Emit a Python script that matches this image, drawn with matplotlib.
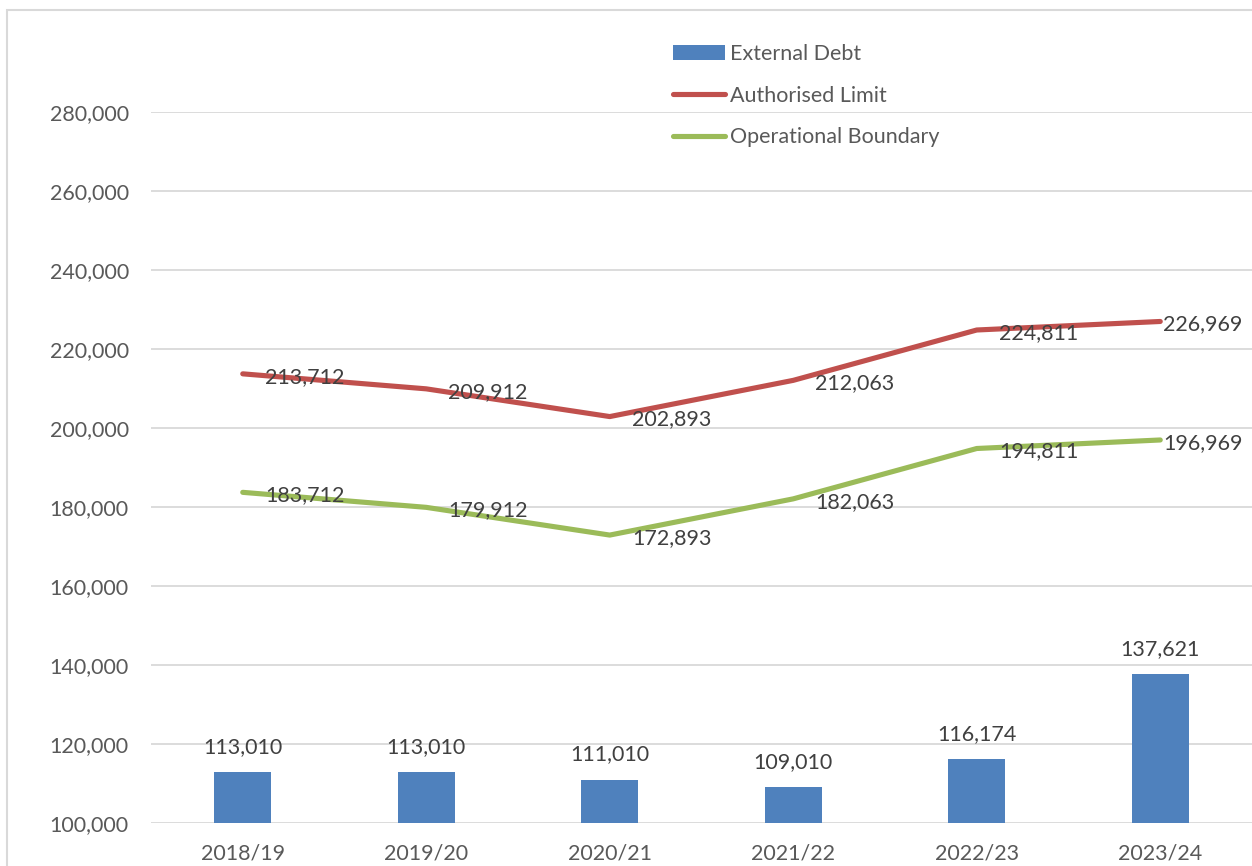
import numpy as np
import matplotlib.pyplot as plt
from matplotlib.patches import Rectangle
from matplotlib.ticker import FuncFormatter

# values
years = ['2018/19', '2019/20', '2020/21', '2021/22', '2022/23', '2023/24']
external_debt = [113010, 113010, 111010, 109010, 116174, 137621]
authorised_limit = [213712, 209912, 202893, 212063, 224811, 226969]
operational_boundary = [183712, 179912, 172893, 182063, 194811, 196969]

plt.rcParams['font.family'] = ['Lato', 'DejaVu Sans']
W, H = 1252, 866
fig = plt.figure(figsize=(W / 100, H / 100), dpi=100)

# chart area border (light grey, runs off the right/bottom edge)
fig.patches.append(Rectangle((7 / W, -0.01), 1.0, 1 - 10 / H + 0.01,
                             transform=fig.transFigure, fill=False,
                             edgecolor='#D9D9D9', lw=1.5))

ax = fig.add_axes([151 / W, 43 / H, 1101 / W, (823 - 112) / H])
x = np.arange(len(years))

bars = ax.bar(x, np.array(external_debt) - 100000, bottom=100000, width=0.31,
              color='#4F81BD', label='External Debt', zorder=3)
l1, = ax.plot(x, authorised_limit, color='#C0504D', lw=3.7, solid_capstyle='round',
              solid_joinstyle='round', label='Authorised Limit', zorder=4)
l2, = ax.plot(x, operational_boundary, color='#9BBB59', lw=3.7, solid_capstyle='round',
              solid_joinstyle='round', label='Operational Boundary', zorder=4)

lbl = dict(fontsize=15.5, color='#404040', annotation_clip=False, zorder=5)
for i, v in enumerate(external_debt):
    ax.annotate(f'{v:,}', (x[i], v), xytext=(0, 18), textcoords='offset points',
                ha='center', va='center', **lbl)
for series in (authorised_limit, operational_boundary):
    for i, v in enumerate(series):
        dx = 2 if i == len(series) - 1 else 16
        ax.annotate(f'{v:,}', (x[i], v), xytext=(dx, -2), textcoords='offset points',
                    ha='left', va='center', **lbl)

ax.set_xlim(-0.5, len(years) - 0.5)
ax.set_ylim(100000, 280000)
ax.set_yticks(np.arange(100000, 280001, 20000))
ax.yaxis.set_major_formatter(FuncFormatter(lambda v, p: f'{int(v):,}'))
ax.set_xticks(x)
ax.set_xticklabels(years)
ax.tick_params(axis='both', length=0, labelsize=15.5, labelcolor='#595959')
ax.tick_params(axis='y', pad=16)
ax.tick_params(axis='x', pad=15)
ax.grid(axis='y', color='#D9D9D9', lw=1.3, zorder=0)
for s in ax.spines.values():
    s.set_visible(False)
ax.set_facecolor('none')

fig.legend(handles=[bars, l1, l2], loc='upper left', bbox_to_anchor=(673 / W, 1 - 44 / H),
           frameon=False, fontsize=15.5, labelcolor='#595959', handlelength=2.4,
           handleheight=0.65, handletextpad=0.25, labelspacing=1.0, borderpad=0,
           borderaxespad=0)

fig.savefig('out.png', dpi=100)
